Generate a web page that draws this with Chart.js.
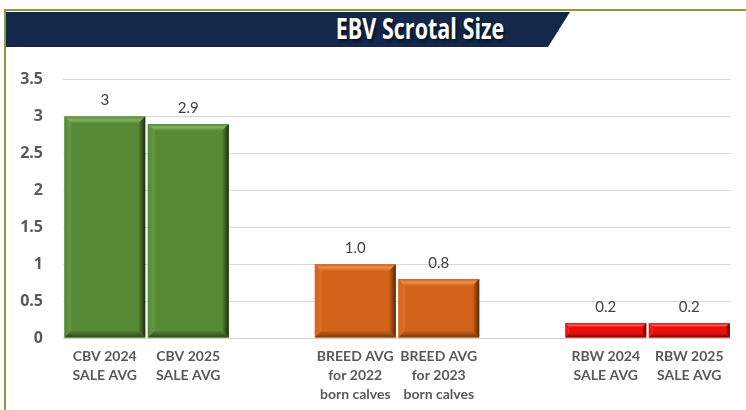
<!DOCTYPE html>
<html>
<head>
<meta charset="utf-8">
<script src="https://cdn.jsdelivr.net/npm/chart.js@4.4.1/dist/chart.umd.min.js"></script>
<style>
  body { margin: 0; background: #fff; }
  #frame { position: relative; width: 746px; height: 410px; overflow: hidden; }
  #frame .edgeTop { position: absolute; left: 4px; top: 9px; width: 742px; height: 2px; background: #8c9b3c; }
  #frame .edgeLeft { position: absolute; left: 4px; top: 9px; width: 2px; height: 401px; background: #8c9b3c; }
  #banner {
    position: absolute; left: 6px; top: 12px; width: 564px; height: 35px;
    background: #14284b;
    clip-path: polygon(0 0, 100% 0, 542px 100%, 0 100%);
  }
  #title {
    position: absolute; left: 280px; top: 11px; width: 280px; height: 35px;
    line-height: 35px; text-align: center; color: #fff;
    font-family: "Open Sans", sans-serif; font-weight: 700; font-size: 28px;
    transform: scaleX(0.77); transform-origin: 140px 0;
    text-shadow: 2px 2px 4px rgba(0,0,0,0.7);
  }
  #chartBox { position: absolute; left: 0; top: 50px; width: 746px; height: 360px; }
</style>
</head>
<body>
<div id="frame">
  <div class="edgeTop"></div>
  <div class="edgeLeft"></div>
  <div id="banner"></div>
  <div id="title">EBV Scrotal Size</div>
  <div id="chartBox"><canvas id="myChart"></canvas></div>
</div>
<script>
// categories (empty slots keep the three groups apart)
const categories = [
    ["CBV 2024", "SALE AVG"],
    ["CBV 2025", "SALE AVG"],
    "",
    ["BREED AVG", "for 2022", "born calves"],
    ["BREED AVG", "for 2023", "born calves"],
    "",
    ["RBW 2024", "SALE AVG"],
    ["RBW 2025", "SALE AVG"]
];
const values = [3, 2.9, null, 1.0, 0.8, null, 0.2, 0.2];
const valueLabels = ["3", "2.9", "", "1.0", "0.8", "", "0.2", "0.2"];
const yTicks = [0, 0.5, 1, 1.5, 2, 2.5, 3, 3.5];

const barColors = ["#578a37", "#578a37", null, "#d2631b", "#d2631b", null, "#e3100e", "#e3100e"];
const lightColors = ["#82b162", "#82b162", null, "#f08b48", "#f08b48", null, "#ff5550", "#ff5550"];
const darkColors = ["#1c2e0c", "#1c2e0c", null, "#5e2805", "#5e2805", null, "#5c0000", "#5c0000"];

function strip(ctx, pts, fill) {
    ctx.fillStyle = fill;
    ctx.beginPath();
    ctx.moveTo(pts[0][0], pts[0][1]);
    for (let k = 1; k < pts.length; k++) ctx.lineTo(pts[k][0], pts[k][1]);
    ctx.closePath();
    ctx.fill();
}

// bevel look drawn on top of each bar, using the bar element positions
const bevelPlugin = {
    id: 'bevel',
    afterDatasetsDraw(chart) {
        const ctx = chart.ctx;
        const meta = chart.getDatasetMeta(0);
        meta.data.forEach((bar, i) => {
            if (values[i] == null) return;
            const p = bar.getProps(['x', 'y', 'base', 'width'], true);
            const l = p.x - p.width / 2, r = p.x + p.width / 2;
            const t = p.y, b = p.base;
            const h = b - t;
            const bv = Math.min(7, h * 0.3);
            ctx.save();

            // top highlight
            let g = ctx.createLinearGradient(0, t, 0, t + bv);
            g.addColorStop(0, barColors[i]);
            g.addColorStop(0.5, lightColors[i]);
            g.addColorStop(1, barColors[i]);
            strip(ctx, [[l, t], [r, t], [r - bv, t + bv], [l + bv, t + bv]], g);

            // left, slightly lighter
            g = ctx.createLinearGradient(l, 0, l + bv, 0);
            g.addColorStop(0, barColors[i]);
            g.addColorStop(1, lightColors[i]);
            ctx.globalAlpha = 0.35;
            strip(ctx, [[l, t], [l + bv, t + bv], [l + bv, b - bv], [l, b]], g);
            ctx.globalAlpha = 1;

            // right, shading to dark
            g = ctx.createLinearGradient(r - bv, 0, r, 0);
            g.addColorStop(0, barColors[i]);
            g.addColorStop(1, darkColors[i]);
            strip(ctx, [[r, t], [r - bv, t + bv], [r - bv, b - bv], [r, b]], g);

            // bottom, shading to dark
            g = ctx.createLinearGradient(0, b - bv, 0, b);
            g.addColorStop(0, barColors[i]);
            g.addColorStop(1, darkColors[i]);
            ctx.globalAlpha = 0.75;
            strip(ctx, [[l, b], [l + bv, b - bv], [r - bv, b - bv], [r, b]], g);
            ctx.globalAlpha = 1;
            ctx.restore();

            // value label
            ctx.save();
            ctx.fillStyle = "#404040";
            ctx.font = "15px Lato";
            ctx.textAlign = "center";
            ctx.textBaseline = "middle";
            ctx.fillText(valueLabels[i], p.x, t - 16);
            ctx.restore();
        });
    }
};

function generateGraph() {
    const ctx = document.getElementById('myChart').getContext('2d');
    new Chart(ctx, {
        type: 'bar',
        data: {
            labels: categories,
            datasets: [{
                data: values,
                backgroundColor: barColors.map(c => c || 'transparent'),
                borderWidth: 0,
                barPercentage: 0.97,
                categoryPercentage: 1
            }]
        },
        options: {
            responsive: true,
            maintainAspectRatio: false,
            animation: false,
            layout: { padding: { top: 25, right: 15, left: 0, bottom: 0 } },
            plugins: {
                legend: { display: false },
                tooltip: { enabled: false }
            },
            scales: {
                x: {
                    grid: { display: false, drawTicks: false },
                    border: { display: true, color: '#d0d0d0', width: 1 },
                    ticks: {
                        color: '#595959',
                        font: { family: 'Lato', size: 14, weight: 'bold', lineHeight: 1.35 },
                        padding: 9,
                        maxRotation: 0,
                        autoSkip: false
                    },
                    afterFit(scale) { scale.height = 72; }
                },
                y: {
                    min: 0,
                    max: 3.5,
                    afterBuildTicks(scale) { scale.ticks = yTicks.map(v => ({ value: v })); },
                    grid: { color: '#d9d9d9', drawTicks: false },
                    border: { display: false },
                    ticks: {
                        color: '#595959',
                        font: { family: 'Open Sans', size: 16, weight: 'bold' },
                        padding: 20,
                        callback: v => String(v)
                    },
                    afterFit(scale) { scale.width = 63; }
                }
            }
        },
        plugins: [bevelPlugin]
    });
}

generateGraph();
</script>
</body>
</html>
